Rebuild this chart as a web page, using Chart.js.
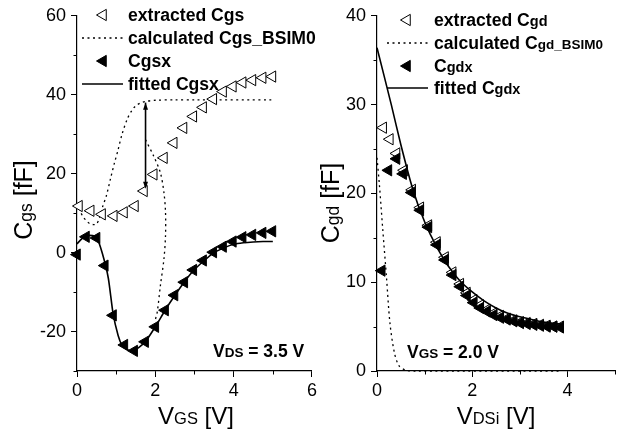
<!DOCTYPE html>
<html>
<head>
<meta charset="utf-8">
<script src="https://cdn.jsdelivr.net/npm/chart.js@4.4.1/dist/chart.umd.min.js"></script>
<style>
  html, body { margin: 0; padding: 0; background: #fff; }
  #wrap { position: relative; width: 628px; height: 435px; }
  #c1 { position: absolute; left: 0; top: 0; }
  #c2 { position: absolute; left: 320px; top: 0; }
</style>
</head>
<body>
<div id="wrap">
  <canvas id="c1" width="320" height="435"></canvas>
  <canvas id="c2" width="308" height="435"></canvas>
</div>
<script>
// ---- left panel : Cgs vs VGS (VDS = 3.5 V) ----
const cgsExtX = [0.05, 0.35, 0.64, 0.94, 1.2, 1.48, 1.71, 1.96, 2.22, 2.47, 2.72, 2.97, 3.22, 3.48, 3.73, 3.98, 4.23, 4.48, 4.74, 4.99];
const cgsExtY = [11.8, 10.6, 9.7, 9.3, 10.2, 11.8, 15.6, 19.8, 24.0, 27.8, 31.6, 34.5, 36.8, 38.9, 40.8, 42.1, 43.1, 43.7, 44.3, 44.6];

const cgsBsimX = [0, 0.08, 0.16, 0.25, 0.33, 0.42, 0.5, 0.58, 0.66, 0.75, 0.85, 0.95, 1.04, 1.15, 1.29, 1.4, 1.5, 1.62, 1.75, 2.0, 2.5, 3.0, 5.0];
const cgsBsimY = [12.5, 10.5, 9.0, 8.0, 7.3, 7.1, 7.2, 9.0, 11.8, 14.4, 18.5, 22.5, 25.7, 30.0, 34.0, 36.0, 37.2, 37.9, 38.3, 38.6, 38.7, 38.7, 38.7];
// second dotted branch (drop after the arrow)
const cgsBsim2X = [1.75, 1.96, 2.13, 2.22, 2.26, 2.26, 2.22, 2.13, 2.05, 2.0];
const cgsBsim2Y = [28.6, 24.4, 20.2, 15.2, 10.2, 4.3, -1.6, -8.3, -15.0, -17.0];

const cgsxX = [0, 0.23, 0.5, 0.71, 0.92, 1.21, 1.46, 1.74, 2.0, 2.25, 2.49, 2.74, 2.97, 3.22, 3.48, 3.73, 3.98, 4.23, 4.48, 4.74, 4.99];
const cgsxY = [-0.5, 4.0, 3.7, -3.3, -15.9, -23.4, -24.9, -22.6, -18.8, -14.6, -10.8, -7.5, -4.4, -2.0, 0.1, 1.5, 2.8, 3.9, 4.5, 5.0, 5.4];

const cgsFitX = [0, 0.12, 0.25, 0.4, 0.5, 0.65, 0.8, 0.92, 1.05, 1.15, 1.25, 1.4, 1.5, 1.75, 2.0, 2.25, 2.5, 2.75, 3.0, 3.25, 3.5, 3.75, 4.0, 4.25, 4.5, 4.75, 5.0];
const cgsFitY = [2.2, 3.5, 4.3, 4.3, 4.0, -0.3, -6.5, -15.4, -21.0, -23.5, -24.4, -25.0, -24.6, -22.5, -18.8, -14.6, -10.8, -7.3, -4.3, -2.0, 0.0, 1.2, 2.1, 2.5, 2.7, 2.8, 2.8];

const arrowX = [1.75, 1.75];
const arrowY = [38.0, 16.2];

const leftXTicks = [0, 2, 4, 6];
const leftXMinor = [1, 3, 5];
const leftYTicks = [-20, 0, 20, 40, 60];
const leftYMinor = [-30, -10, 10, 30, 50];

// ---- right panel : Cgd vs VDSi (VGS = 2.0 V) ----
const cgdExtX = [0.13, 0.27, 0.41, 0.57, 0.74, 0.91, 1.08, 1.26, 1.43, 1.59, 1.75, 1.89, 2.03, 2.17, 2.31, 2.45, 2.59, 2.73, 2.87, 3.01, 3.15, 3.29, 3.43, 3.57, 3.71, 3.85];
const cgdExtY = [27.4, 26.1, 24.5, 22.6, 20.4, 18.4, 16.4, 14.5, 12.8, 11.1, 9.8, 8.8, 8.0, 7.4, 6.9, 6.5, 6.2, 5.9, 5.7, 5.5, 5.4, 5.3, 5.2, 5.1, 5.0, 5.0];

const cgdBsimX = [0, 0.05, 0.12, 0.2, 0.27, 0.36, 0.46, 0.6, 0.8, 3.85];
const cgdBsimY = [24.0, 21.0, 16.0, 10.5, 5.5, 2.2, 0.6, 0.1, 0, 0];

const cgdxX = [0.1, 0.24, 0.41, 0.55, 0.73, 0.91, 1.08, 1.26, 1.43, 1.59, 1.75, 1.89, 2.03, 2.17, 2.31, 2.45, 2.59, 2.73, 2.87, 3.01, 3.15, 3.29, 3.43, 3.57, 3.71, 3.85];
const cgdxY = [11.3, 22.6, 23.9, 22.2, 20.1, 18.1, 16.2, 14.2, 12.5, 10.8, 9.5, 8.5, 7.7, 7.1, 6.7, 6.3, 6.0, 5.8, 5.6, 5.4, 5.3, 5.2, 5.1, 5.0, 5.0, 4.9];

const cgdFitX = [0, 0.3, 0.5, 0.75, 1.0, 1.25, 1.5, 1.75, 2.0, 2.25, 2.5, 2.75, 3.0, 3.25, 3.5, 3.85];
const cgdFitY = [36.4, 30.0, 25.5, 20.5, 16.8, 14.0, 11.8, 10.1, 8.9, 7.9, 7.1, 6.5, 6.1, 5.8, 5.5, 5.3];

const rightXTicks = [0, 2, 4];
const rightXMinor = [1, 3, 5];
const rightYTicks = [0, 10, 20, 30, 40];
const rightYMinor = [5, 15, 25, 35];

const FONT = "'Liberation Sans', Arial, Helvetica, sans-serif";

function pts(xs, ys) {
    return xs.map((x, i) => ({ x: x, y: ys[i] }));
}

// text made of pieces of different size (subscripts on the same baseline)
function richWidth(ctx, parts) {
    let w = 0;
    parts.forEach(p => {
        ctx.font = (p[2] ? 'bold ' : '') + p[1] + 'px ' + FONT;
        w += ctx.measureText(p[0]).width;
    });
    return w;
}
function drawRich(ctx, parts, x, y, center) {
    let cx = center ? x - richWidth(ctx, parts) / 2 : x;
    ctx.textAlign = 'left';
    ctx.textBaseline = 'alphabetic';
    ctx.fillStyle = '#000';
    parts.forEach(p => {
        ctx.font = (p[2] ? 'bold ' : '') + p[1] + 'px ' + FONT;
        ctx.fillText(p[0], cx, y);
        cx += ctx.measureText(p[0]).width;
    });
}

function leftTriangle(ctx, x, y, r, filled) {
    ctx.beginPath();
    ctx.moveTo(x - r, y);
    ctx.lineTo(x + r * 0.5, y - r * 0.866);
    ctx.lineTo(x + r * 0.5, y + r * 0.866);
    ctx.closePath();
    ctx.fillStyle = filled ? '#000' : '#fff';
    ctx.fill();
    ctx.lineWidth = 1;
    ctx.strokeStyle = '#000';
    ctx.stroke();
}

// legend, notes, axis titles, minor ticks, arrow heads
const decorPlugin = {
    id: 'decor',
    afterDatasetsDraw(chart, args, opts) {
        const ctx = chart.ctx;
        ctx.save();
        if (opts.arrowIndex !== undefined) {
            const meta = chart.getDatasetMeta(opts.arrowIndex);
            const a = meta.data[0], b = meta.data[1];
            [[a, b], [b, a]].forEach(([p, q]) => {
                const dir = p.y < q.y ? 1 : -1;
                ctx.beginPath();
                ctx.moveTo(p.x, p.y);
                ctx.lineTo(p.x - 2.5, p.y + dir * 7);
                ctx.lineTo(p.x + 2.5, p.y + dir * 7);
                ctx.closePath();
                ctx.fillStyle = '#000';
                ctx.fill();
            });
        }
        ctx.restore();
    },
    afterDraw(chart, args, opts) {
        const ctx = chart.ctx;
        const xs = chart.scales.x, ys = chart.scales.y;
        ctx.save();
        // minor ticks
        ctx.strokeStyle = '#000';
        ctx.lineWidth = 1;
        opts.minorX.forEach(v => {
            const px = Math.round(xs.getPixelForValue(v)) + 0.5;
            ctx.beginPath();
            ctx.moveTo(px, chart.chartArea.bottom);
            ctx.lineTo(px, chart.chartArea.bottom + 3.5);
            ctx.stroke();
        });
        opts.minorY.forEach(v => {
            const py = Math.round(ys.getPixelForValue(v)) + 0.5;
            ctx.beginPath();
            ctx.moveTo(chart.chartArea.left, py);
            ctx.lineTo(chart.chartArea.left - 3.5, py);
            ctx.stroke();
        });
        // legend
        const L = opts.legend;
        L.rows.forEach((row, i) => {
            const base = L.baseline[i];
            const my = base - 6;
            if (row.kind === 'open' || row.kind === 'filled') {
                leftTriangle(ctx, L.markX, my, 6.5, row.kind === 'filled');
            } else {
                ctx.beginPath();
                ctx.lineWidth = row.kind === 'dotted' ? 1.3 : 1.6;
                ctx.setLineDash(row.kind === 'dotted' ? [2, 3.5] : []);
                ctx.moveTo(L.lineX[0], my);
                ctx.lineTo(L.lineX[1], my);
                ctx.stroke();
                ctx.setLineDash([]);
            }
            drawRich(ctx, row.text, L.textX, base, false);
        });
        // operating point note
        drawRich(ctx, opts.note.text, opts.note.x, opts.note.y, false);
        // axis titles
        drawRich(ctx, opts.xTitle.text, opts.xTitle.x, opts.xTitle.y, true);
        ctx.translate(opts.yTitle.x, opts.yTitle.y);
        ctx.rotate(-Math.PI / 2);
        drawRich(ctx, opts.yTitle.text, 0, 0, true);
        ctx.restore();
    }
};

function axes(xMin, xMax, xTicks, yMin, yMax, yTicks, yWidth) {
    const grid = { display: true, drawOnChartArea: false, drawTicks: true, tickLength: 6, color: '#000', tickWidth: 1 };
    const border = { display: true, color: '#000', width: 1.2 };
    return {
        x: {
            type: 'linear', min: xMin, max: xMax,
            afterBuildTicks: s => { s.ticks = xTicks.map(v => ({ value: v })); },
            afterFit: s => { s.height = 64; },
            grid: grid, border: border,
            ticks: { color: '#000', padding: 3, autoSkip: false, maxRotation: 0, font: { family: FONT, size: 18 } }
        },
        y: {
            type: 'linear', min: yMin, max: yMax,
            afterBuildTicks: s => { s.ticks = yTicks.map(v => ({ value: v })); },
            afterFit: s => { s.width = yWidth; },
            grid: grid, border: border,
            ticks: { color: '#000', padding: 5, autoSkip: false, font: { family: FONT, size: 18 } }
        }
    };
}

const openTri = { pointStyle: 'triangle', rotation: -90, radius: 6.5, backgroundColor: '#fff', borderColor: '#000', borderWidth: 1 };
const fullTri = { pointStyle: 'triangle', rotation: -90, radius: 6.5, backgroundColor: '#000', borderColor: '#000', borderWidth: 1 };

function markerSet(label, data, st, order) {
    return {
        label: label, data: data, showLine: false, order: order, clip: false,
        pointStyle: st.pointStyle, pointRotation: st.rotation, pointRadius: st.radius,
        pointBackgroundColor: st.backgroundColor, pointBorderColor: st.borderColor, pointBorderWidth: st.borderWidth
    };
}
function lineSet(label, data, dotted, order) {
    return {
        label: label, data: data, showLine: true, order: order, clip: false,
        pointRadius: 0, borderColor: '#000', borderWidth: dotted ? 1.3 : 1.6,
        borderDash: dotted ? [2, 3.5] : [], tension: dotted ? 0.3 : 0.2
    };
}

const baseOptions = {
    responsive: false,
    animation: false,
    plugins: { legend: { display: false }, tooltip: { enabled: false } }
};

// Left chart
new Chart(document.getElementById('c1'), {
    type: 'scatter',
    data: {
        datasets: [
            markerSet('Cgsx', pts(cgsxX, cgsxY), fullTri, 0),
            lineSet('fitted Cgsx', pts(cgsFitX, cgsFitY), false, 1),
            markerSet('extracted Cgs', pts(cgsExtX, cgsExtY), openTri, 2),
            lineSet('calculated Cgs_BSIM0', pts(cgsBsimX, cgsBsimY), true, 3),
            lineSet('calculated Cgs_BSIM0 (2)', pts(cgsBsim2X, cgsBsim2Y), true, 4),
            lineSet('arrow', pts(arrowX, arrowY), false, 5)
        ]
    },
    options: Object.assign({}, baseOptions, {
        layout: { padding: { left: 0, right: 5, top: 14, bottom: 0 } },
        scales: axes(0, 6, leftXTicks, -30, 60, leftYTicks, 77),
        plugins: {
            legend: { display: false }, tooltip: { enabled: false },
            decor: {
                arrowIndex: 5,
                minorX: leftXMinor, minorY: leftYMinor,
                legend: {
                    markX: 103, lineX: [82, 123], textX: 128, baseline: [21, 44, 67, 90],
                    rows: [
                        { kind: 'open', text: [['extracted Cgs', 17.6, true]] },
                        { kind: 'dotted', text: [['calculated Cgs_BSIM0', 17.6, true]] },
                        { kind: 'filled', text: [['Cgsx', 17.6, true]] },
                        { kind: 'solid', text: [['fitted Cgsx', 17.6, true]] }
                    ]
                },
                note: { x: 213, y: 357, text: [['V', 17.5, true], ['DS', 13.5, true], [' = 3.5 V', 17.5, true]] },
                xTitle: { x: 196, y: 424, text: [['V', 24], ['GS', 16.5], [' [V]', 24]] },
                yTitle: { x: 32, y: 200, text: [['C', 25], ['gs', 17.5], [' [fF]', 25]] }
            }
        }
    }),
    plugins: [decorPlugin]
});

// Right chart
new Chart(document.getElementById('c2'), {
    type: 'scatter',
    data: {
        datasets: [
            markerSet('Cgdx', pts(cgdxX, cgdxY), fullTri, 0),
            lineSet('fitted Cgdx', pts(cgdFitX, cgdFitY), false, 1),
            markerSet('extracted Cgd', pts(cgdExtX, cgdExtY), openTri, 2),
            lineSet('calculated Cgd_BSIM0', pts(cgdBsimX, cgdBsimY), true, 3)
        ]
    },
    options: Object.assign({}, baseOptions, {
        layout: { padding: { left: 0, right: 13, top: 14, bottom: 0 } },
        scales: axes(0, 5, rightXTicks, 0, 40, rightYTicks, 57),
        plugins: {
            legend: { display: false }, tooltip: { enabled: false },
            decor: {
                minorX: rightXMinor, minorY: rightYMinor,
                legend: {
                    markX: 87, lineX: [67, 108], textX: 114, baseline: [26, 49, 72, 94],
                    rows: [
                        { kind: 'open', text: [['extracted C', 17.6, true], ['gd', 14.5, true]] },
                        { kind: 'dotted', text: [['calculated C', 17.6, true], ['gd_BSIM0', 13.5, true]] },
                        { kind: 'filled', text: [['C', 17.6, true], ['gdx', 14.5, true]] },
                        { kind: 'solid', text: [['fitted C', 17.6, true], ['gdx', 14.5, true]] }
                    ]
                },
                note: { x: 87, y: 358, text: [['V', 17.5, true], ['GS', 13.5, true], [' = 2.0 V', 17.5, true]] },
                xTitle: { x: 176, y: 424, text: [['V', 24], ['DSi', 16.5], [' [V]', 24]] },
                yTitle: { x: 19, y: 203, text: [['C', 25], ['gd', 17.5], [' [fF]', 25]] }
            }
        }
    }),
    plugins: [decorPlugin]
});
</script>
</body>
</html>
